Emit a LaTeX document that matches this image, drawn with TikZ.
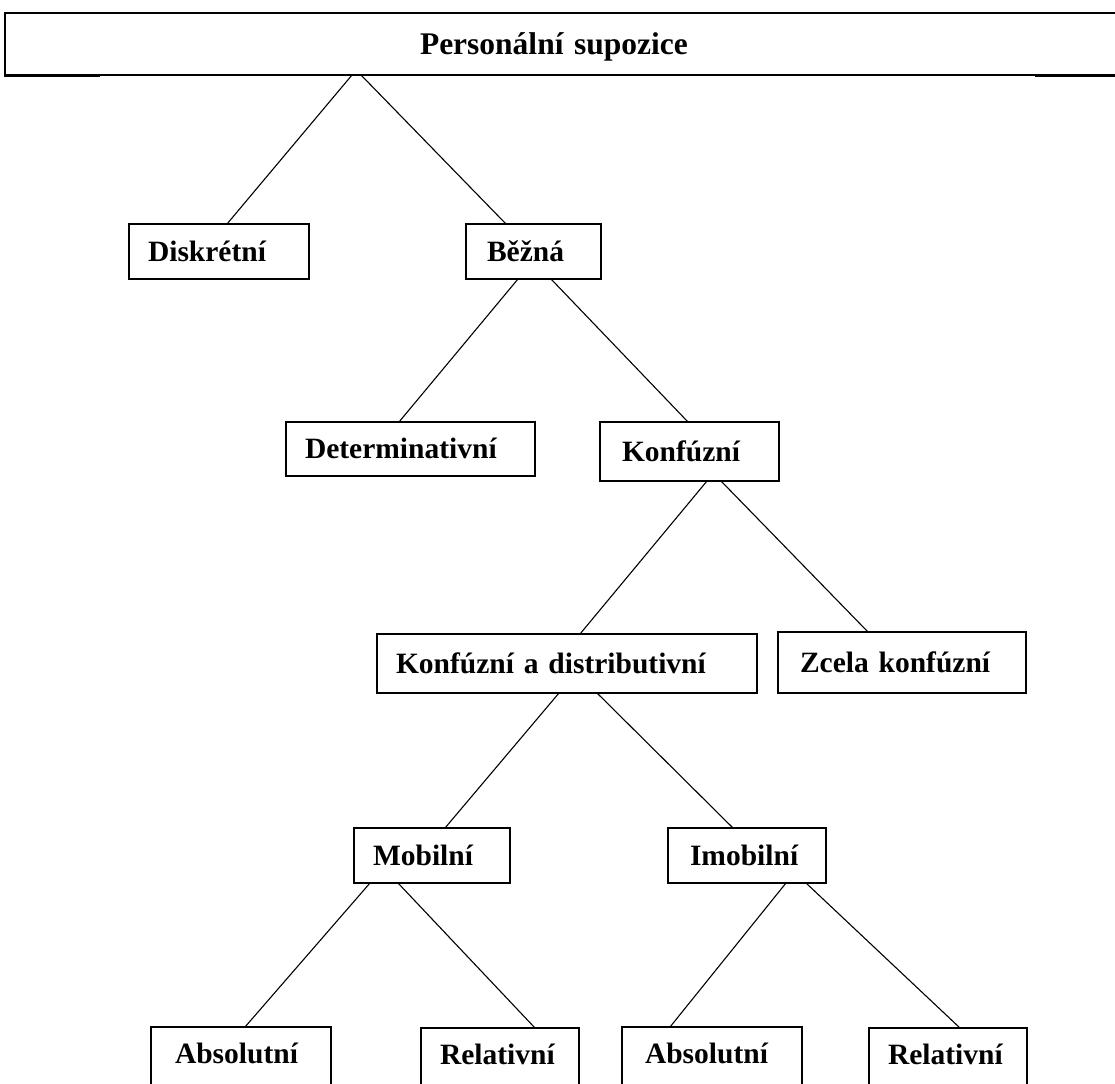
\documentclass[tikz,border=0pt]{standalone}
\usepackage{fontspec}
\setmainfont{Liberation Serif}
\usetikzlibrary{calc}
\begin{document}
\begin{tikzpicture}[x=1pt,y=-1pt,
  box/.style={draw, line width=1.8pt, outer sep=0pt, inner ysep=0pt, anchor=north west,
    align=left, font=\fontsize{29.5}{31}\selectfont\bfseries, text height=22pt, text depth=2.5pt},
  lowbox/.style={box, text depth=10pt},
  conn/.style={line width=1.1pt},
  edgebar/.style={line width=3pt}]
\useasboundingbox (0,0) rectangle (1115,1083);
\fill[white] (0,0) rectangle (1115,1083);
% header
\node[draw, line width=1.6pt, outer sep=0pt, anchor=north west, inner ysep=0pt,
  inner xsep=415pt, text width=290pt, align=left,
  minimum width=1120pt, minimum height=62pt,
  font=\fontsize{31.5}{33}\selectfont\bfseries, text height=23pt, text depth=2pt]
  (hdr) at (5,13) {Personální supozice};
\draw[edgebar] ($(hdr.south west)+(-1,1)$) -- ++(96,0);
\draw[edgebar] ($(hdr.south west)+(1030,1)$) -- ++(90,0);
% boxes
\node[box, minimum width=180pt, minimum height=55pt, inner xsep=19pt, text width=142pt] (disk) at (129,224) {Diskrétní};
\node[box, minimum width=135pt, minimum height=55pt, inner xsep=21pt, text width=93pt] (bez) at (466,224) {Běžná};
\node[box, minimum width=249pt, minimum height=54pt, inner xsep=19pt, text width=211pt] (det) at (286,422) {Determinativní};
\node[box, minimum width=179pt, minimum height=59pt, inner xsep=22pt, text width=135pt] (konf) at (600,422) {Konfúzní};
\node[box, minimum width=380pt, minimum height=59pt, inner xsep=19pt, text width=342pt] (kad) at (377,634) {Konfúzní a distributivní};
\node[box, minimum width=248pt, minimum height=61pt, inner xsep=22pt, text width=204pt] (zcela) at (778,632) {Zcela konfúzní};
\node[box, minimum width=156pt, minimum height=55pt, inner xsep=19pt, text width=118pt] (mob) at (354,828) {Mobilní};
\node[box, minimum width=158pt, minimum height=55pt, inner xsep=22pt, text width=114pt] (imob) at (668,828) {Imobilní};
\node[lowbox, minimum width=180pt, minimum height=60pt, inner xsep=24pt, text width=132pt] (absa) at (151,1027) {Absolutní};
\node[lowbox, minimum width=158pt, minimum height=60pt, inner xsep=19pt, text width=120pt] (rela) at (421,1028) {Relativní};
\node[lowbox, minimum width=180pt, minimum height=60pt, inner xsep=23pt, text width=134pt] (absb) at (622,1027) {Absolutní};
\node[lowbox, minimum width=158pt, minimum height=60pt, inner xsep=19pt, text width=120pt] (relb) at (869,1028) {Relativní};
% connectors
\draw[conn] ($(hdr.south west)+(347,0)$) -- ($(disk.north west)+(98,0)$);
\draw[conn] ($(hdr.south west)+(356,0)$) -- ($(bez.north west)+(40,0)$);
\draw[conn] ($(bez.south west)+(52,0)$) -- ($(det.north west)+(113,0)$);
\draw[conn] ($(bez.south west)+(85,0)$) -- ($(konf.north west)+(88,0)$);
\draw[conn] ($(konf.south west)+(107,0)$) -- ($(kad.north west)+(203,0)$);
\draw[conn] ($(konf.south west)+(121,0)$) -- ($(zcela.north west)+(90,0)$);
\draw[conn] ($(kad.south west)+(182,0)$) -- ($(mob.north west)+(91,0)$);
\draw[conn] ($(kad.south west)+(220,0)$) -- ($(imob.north west)+(65,0)$);
\draw[conn] ($(mob.south west)+(16,0)$) -- ($(absa.north west)+(94,0)$);
\draw[conn] ($(mob.south west)+(44,0)$) -- ($(rela.north west)+(114,0)$);
\draw[conn] ($(imob.south west)+(118,0)$) -- ($(absb.north west)+(48,0)$);
\draw[conn] ($(imob.south west)+(138,0)$) -- ($(relb.north west)+(91,0)$);
\end{tikzpicture}
\end{document}
